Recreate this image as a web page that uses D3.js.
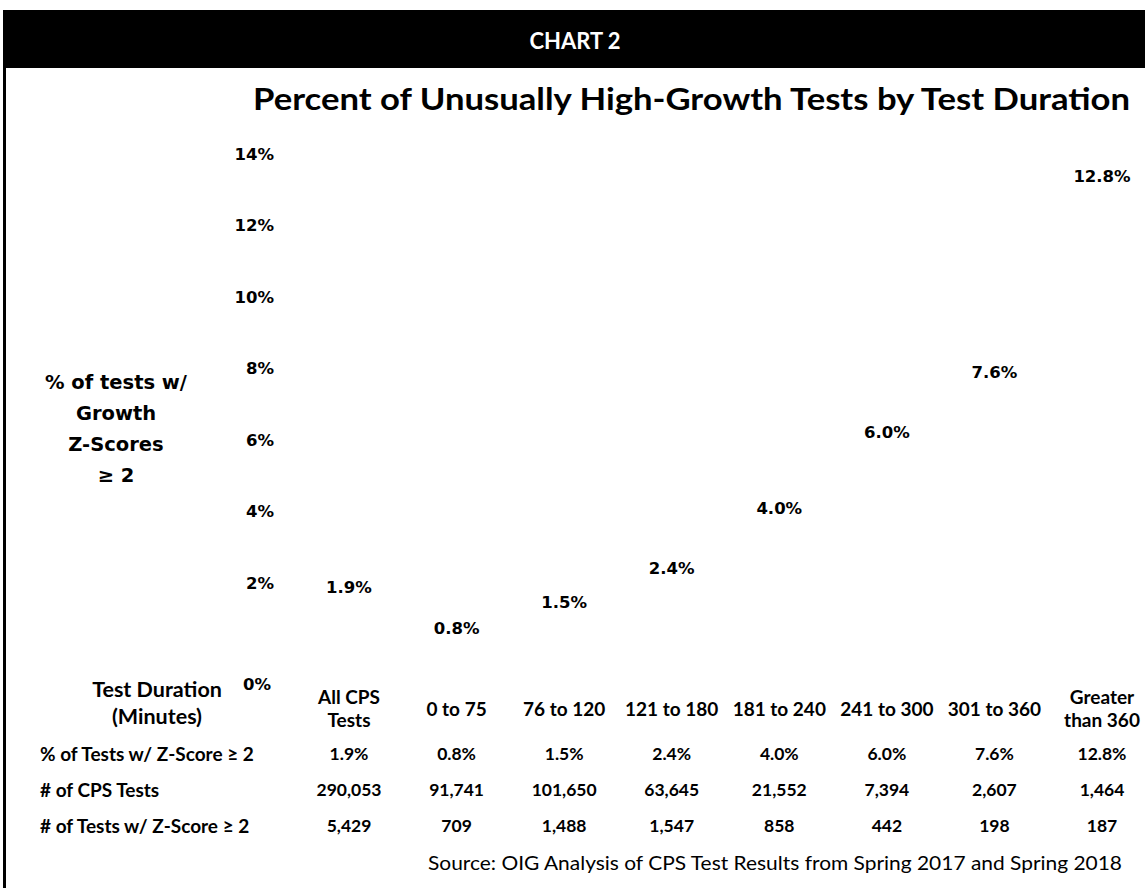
<!DOCTYPE html>
<html>
<head>
<meta charset="utf-8">
<script src="https://cdn.jsdelivr.net/npm/d3@7"></script>
<style>
  html, body { margin: 0; padding: 0; background: #ffffff; }
  svg { display: block; }
</style>
</head>
<body>
<div id="chart"></div>
<script>
// ---- data ----
const categories = ["All CPS\nTests", "0 to 75", "76 to 120", "121 to 180", "181 to 240", "241 to 300", "301 to 360", "Greater\nthan 360"];
const pctValues = [1.9, 0.8, 1.5, 2.4, 4.0, 6.0, 7.6, 12.8];
const pctLabels = ["1.9%", "0.8%", "1.5%", "2.4%", "4.0%", "6.0%", "7.6%", "12.8%"];
const cpsTests = ["290,053", "91,741", "101,650", "63,645", "21,552", "7,394", "2,607", "1,464"];
const highTests = ["5,429", "709", "1,488", "1,547", "858", "442", "198", "187"];
const yTicks = [0, 2, 4, 6, 8, 10, 12, 14];
const rowLabels = ["% of Tests w/ Z-Score \u2265 2", "# of CPS Tests", "# of Tests w/ Z-Score \u2265 2"];
const headerText = "CHART 2";
const titleText = "Percent of Unusually High-Growth Tests by Test Duration";
const sourceText = "Source: OIG Analysis of CPS Test Results from Spring 2017 and Spring 2018";
const yTitleLines = ["% of tests w/", "Growth", "Z-Scores", "\u2265 2"];
const xTitleLines = ["Test Duration", "(Minutes)"];

// ---- setup ----
const W = 1145, H = 888;
const calibri = "Lato, 'Open Sans', 'Liberation Sans', sans-serif";
const verdana = "'DejaVu Sans', Verdana, sans-serif";

const svg = d3.select("#chart").append("svg")
  .attr("width", W).attr("height", H)
  .style("background", "#ffffff");

// frame: header band and left border
svg.append("rect").attr("x", 4).attr("y", 10).attr("width", W - 4).attr("height", 58).attr("fill", "#000000");
svg.append("rect").attr("x", 3).attr("y", 10).attr("width", 3).attr("height", H - 10).attr("fill", "#000000");

svg.append("text")
  .attr("x", 575).attr("y", 40)
  .attr("text-anchor", "middle").attr("dominant-baseline", "central")
  .attr("fill", "#ffffff")
  .style("font-family", calibri).style("font-weight", "bold").style("font-size", "22px")
  .text(headerText);

svg.append("text")
  .attr("x", 253).attr("y", 110)
  .attr("textLength", 877).attr("lengthAdjust", "spacingAndGlyphs")
  .attr("fill", "#000000")
  .style("font-family", calibri).style("font-weight", "bold").style("font-size", "31px")
  .text(titleText);

// ---- scales ----
const y = d3.scaleLinear().domain([0, 14]).range([683, 155]);
const yTickPos = d3.scaleLinear().domain([2, 14]).range([583, 154]);
const x = d3.scalePoint().domain(categories).range([349, 1102]);
const xb = d3.scaleBand().domain(categories).range([295, 1156]).paddingInner(0.35).paddingOuter(0.175);

// ---- bars (white, as in the reference) ----
svg.append("g").selectAll("rect").data(categories).join("rect")
  .attr("x", d => xb(d))
  .attr("width", xb.bandwidth())
  .attr("y", (d, i) => y(pctValues[i]))
  .attr("height", (d, i) => y(0) - y(pctValues[i]))
  .attr("fill", "#ffffff");

// ---- y axis ----
const yAxis = d3.axisLeft(yTickPos).tickValues(yTicks.filter(v => v > 0)).tickSize(0).tickPadding(0)
  .tickFormat(d => d + "%");
const gy = svg.append("g").attr("transform", "translate(274,0)").call(yAxis);
gy.select(".domain").remove();
gy.selectAll("text")
  .attr("fill", "#000000")
  .style("font-family", verdana).style("font-weight", "bold").style("font-size", "16.5px");

svg.append("text")
  .attr("x", 271).attr("y", y(0) + 1)
  .attr("text-anchor", "end").attr("dominant-baseline", "central")
  .style("font-family", verdana).style("font-weight", "bold").style("font-size", "16.5px")
  .text(yTicks[0] + "%");

// y title
svg.append("g").selectAll("text").data(yTitleLines).join("text")
  .attr("x", 116).attr("y", (d, i) => 382 + i * 31)
  .attr("text-anchor", "middle").attr("dominant-baseline", "central")
  .style("font-family", verdana).style("font-weight", "bold").style("font-size", "19.5px")
  .text(d => d);

// ---- data labels ----
svg.append("g").selectAll("text").data(categories).join("text")
  .attr("x", d => x(d))
  .attr("y", (d, i) => y(pctValues[i]) - 24)
  .attr("text-anchor", "middle").attr("dominant-baseline", "central")
  .style("font-family", verdana).style("font-weight", "bold").style("font-size", "16.5px")
  .text((d, i) => pctLabels[i]);

// ---- table ----
const tbl = svg.append("g")
  .style("font-family", calibri).style("font-weight", "bold").style("font-size", "19px")
  .attr("fill", "#000000");

// x title
tbl.selectAll("text.xt").data(xTitleLines).join("text").attr("class", "xt")
  .attr("x", 157).attr("y", (d, i) => 689 + i * 27)
  .attr("text-anchor", "middle").attr("dominant-baseline", "central")
  .style("font-size", "21.5px")
  .text(d => d);

// category headers
categories.forEach(c => {
  const lines = c.split("\n");
  const y0 = lines.length === 1 ? 708 : 696;
  tbl.append("g").selectAll("text").data(lines).join("text")
    .attr("x", x(c)).attr("y", (d, i) => y0 + i * 23)
    .attr("text-anchor", "middle").attr("dominant-baseline", "central")
    .text(d => d);
});

// row labels
const rowY = [753, 789, 825];
tbl.selectAll("text.rl").data(rowLabels).join("text").attr("class", "rl")
  .attr("x", 40).attr("y", (d, i) => rowY[i])
  .attr("dominant-baseline", "central")
  .text(d => d);

const rows = [pctLabels, cpsTests, highTests];
rows.forEach((arr, r) => {
  tbl.append("g").selectAll("text").data(categories).join("text")
    .attr("x", d => x(d)).attr("y", rowY[r])
    .attr("text-anchor", "middle").attr("dominant-baseline", "central")
    .style("font-size", "17.5px")
    .text((d, i) => arr[i]);
});

// source
svg.append("text")
  .attr("x", 428).attr("y", 870)
  .attr("textLength", 694).attr("lengthAdjust", "spacingAndGlyphs")
  .style("font-family", calibri).style("font-size", "19px")
  .attr("fill", "#000000")
  .text(sourceText);
</script>
</body>
</html>
